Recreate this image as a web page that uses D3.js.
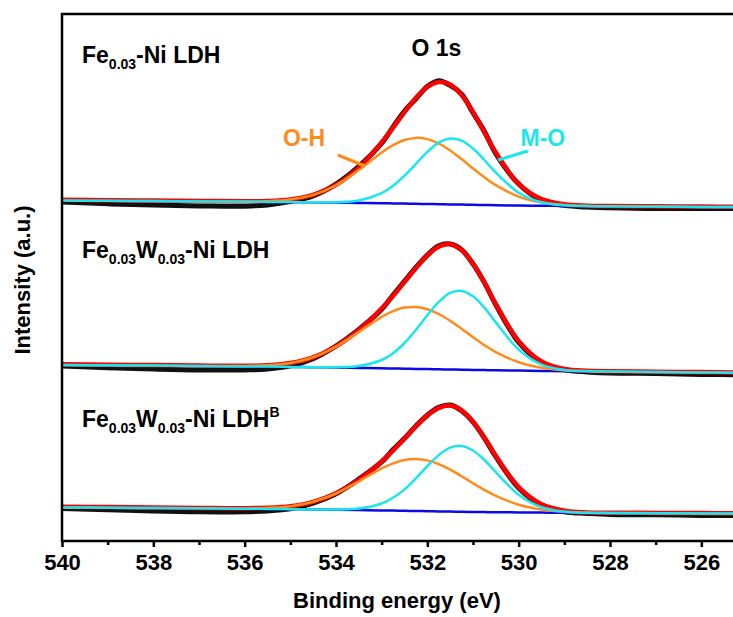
<!DOCTYPE html>
<html>
<head>
<meta charset="utf-8">
<script src="https://cdn.jsdelivr.net/npm/d3@7"></script>
<style>
  body { margin: 0; background: #fff; }
  text { font-family: "Liberation Sans", Arial, sans-serif; font-weight: bold; }
</style>
</head>
<body>
<div id="chart"></div>
<script>
// binding energy grid (eV)
const energy = [540, 539, 538, 537, 536, 535.5, 535, 534.5, 534, 533.5, 533, 532.75, 532.5, 532.25, 532,
  531.75, 531.5, 531.25, 531, 530.75, 530.5, 530, 529.5, 529, 528.5, 528, 527, 526, 525];

// Fe0.03-Ni LDH
const bg1 = [340.5, 340.2, 339.9, 339.6, 339.3, 339.1, 338.9, 338.7, 338.4, 338.1, 337.8, 337.6, 337.4, 337.2, 337.0,
  336.8, 336.6, 336.4, 336.2, 336.0, 335.8, 335.5, 335.3, 335.1, 334.9, 334.7, 334.4, 334.1, 333.8];
const raw1 = [-1.5, -3, -4, -4.5, -4.5, -3, 0.5, 6.5, 18.5, 36.5, 60, 76.5, 92.5, 105, 117.5,
  123.5, 119, 110.5, 92, 73.5, 51.5, 21.5, 5.5, 0.5, -1, -1.5, -2, -1.5, -1.5];
const fit1 = [0.8, 0.6, 0.5, 0.4, 0.5, 0.9, 2.6, 7.4, 17.7, 35.3, 60.8, 75.8, 91.5, 105.9, 117.0,
  122.2, 119.8, 109.5, 92.7, 72.7, 52.6, 21.7, 6.6, 1.6, 0.4, 0.3, 0.3, 0.3, 0.3];
const oh1 = [0, 0, 0, 0, 0.2, 0.7, 2.6, 7.4, 17.3, 32.8, 50.7, 58.2, 63.6, 65.9, 64.9,
  60.7, 53.9, 45.5, 36.4, 27.7, 20.0, 8.9, 3.2, 1.0, 0.2, 0, 0, 0, 0];
const mo1 = [0, 0, 0, 0, 0, 0, 0, 0, 0.4, 2.5, 10.1, 17.6, 27.9, 40.0, 52.1,
  61.5, 65.9, 64.0, 56.3, 45.0, 32.6, 12.8, 3.4, 0.6, 0, 0, 0, 0, 0];

// Fe0.03W0.03-Ni LDH
const bg2 = [176, 175.7, 175.4, 175, 174.6, 174.4, 174.1, 173.8, 173.5, 173.1, 172.7, 172.5, 172.3, 172.1, 171.9,
  171.7, 171.5, 171.3, 171.1, 170.9, 170.7, 170.4, 170.1, 169.8, 169.6, 169.4, 169, 168.6, 168.2];
const raw2 = [-1, -2.5, -3.5, -4, -3.5, -2.5, 1, 8.5, 21.5, 38.5, 59, 73.5, 87.5, 101.5, 114,
  123.5, 125.5, 120, 106, 87.5, 65.5, 28.5, 8.5, 1.5, -0.5, -1.5, -1.5, -2, -2];
const fit2 = [0.8, 0.6, 0.5, 0.4, 0.6, 1.4, 3.9, 9.9, 21.1, 37.8, 59.8, 72.7, 86.8, 100.9, 113.8,
  122.7, 125.3, 119.7, 106.3, 87.4, 66.1, 29.5, 9.5, 2.3, 0.6, 0.3, 0.3, 0.3, 0.3];
const oh2 = [0, 0, 0, 0, 0.4, 1.3, 3.9, 9.9, 20.8, 36.0, 51.5, 57.4, 61.1, 61.9, 59.9,
  55.3, 48.7, 40.9, 32.7, 25.0, 18.2, 8.4, 3.2, 1.0, 0.3, 0, 0, 0, 0];
const mo2 = [0, 0, 0, 0, 0, 0, 0, 0, 0.3, 1.8, 8.3, 15.3, 25.7, 39.0, 53.9,
  67.4, 76.6, 78.8, 73.6, 62.4, 47.9, 21.1, 6.3, 1.3, 0.2, 0, 0, 0, 0];

// Fe0.03W0.03-Ni LDH^B
const bg3 = [33.5, 33.3, 33.0, 32.7, 32.3, 32.1, 31.8, 31.5, 31.2, 30.9, 30.6, 30.4, 30.2, 30.0, 29.8,
  29.6, 29.4, 29.2, 29.0, 28.9, 28.8, 28.6, 28.4, 28.2, 28.1, 28.0, 27.8, 27.6, 27.4];
const raw3 = [-1, -2, -3, -3.5, -3, -2, 0.5, 6.5, 16, 31, 48.5, 61, 72.5, 85, 96,
  104, 106.5, 101, 90, 74, 55.5, 24.5, 7.5, 1, -0.5, -1.5, -1.5, -2, -2];
const fit3 = [0.8, 0.6, 0.5, 0.4, 0.5, 1.1, 3.0, 7.7, 16.6, 30.3, 48.9, 60.1, 72.2, 84.6, 95.8,
  103.6, 106.0, 101.5, 90.3, 74.3, 56.3, 25.3, 8.3, 2.1, 0.5, 0.3, 0.3, 0.3, 0.3];
const oh3 = [0, 0, 0, 0, 0.3, 1.0, 3.0, 7.7, 16.3, 28.8, 42.0, 47.3, 50.8, 52, 50.8,
  47.3, 42.0, 35.6, 28.8, 22.2, 16.3, 7.7, 3.0, 1.0, 0.3, 0.1, 0, 0, 0];
const mo3 = [0, 0, 0, 0, 0, 0, 0, 0, 0.3, 1.5, 6.9, 12.8, 21.4, 32.6, 45.0,
  56.3, 64.0, 65.9, 61.5, 52.1, 40.0, 17.6, 5.3, 1.1, 0.1, 0, 0, 0, 0];

const majorTicks = [540, 538, 536, 534, 532, 530, 528, 526];
const minorTicks = [539, 537, 535, 533, 531, 529, 527, 525];

const panels = [
  { bg: bg1, raw: raw1, fit: fit1, oh: oh1, mo: mo1,
    label: [["Fe", ""], ["0.03", "sub"], ["-Ni LDH", ""]], lx: 82, ly: 63 },
  { bg: bg2, raw: raw2, fit: fit2, oh: oh2, mo: mo2,
    label: [["Fe", ""], ["0.03", "sub"], ["W", ""], ["0.03", "sub"], ["-Ni LDH", ""]], lx: 82, ly: 258 },
  { bg: bg3, raw: raw3, fit: fit3, oh: oh3, mo: mo3,
    label: [["Fe", ""], ["0.03", "sub"], ["W", ""], ["0.03", "sub"], ["-Ni LDH", ""], ["B", "sup"]], lx: 82, ly: 427 }
];

const colors = { raw: "#111111", fit: "#ff0000", bg: "#0a0ae6", oh: "#ff8c1a", mo: "#19e6ee" };

const W = 733, H = 617;
const plot = { left: 62, right: 747, top: 14, bottom: 541 };

const svg = d3.select("#chart").append("svg")
  .attr("width", W)
  .attr("height", H);

const xScale = d3.scaleLinear().domain([540, 525]).range([plot.left, plot.right]);
const yScale = d3.scaleLinear().domain([0, 527]).range([plot.bottom, plot.top]);

svg.append("clipPath").attr("id", "clip")
  .append("rect")
  .attr("x", plot.left).attr("y", plot.top)
  .attr("width", plot.right - plot.left).attr("height", plot.bottom - plot.top);

const line = d3.line()
  .x(d => xScale(d[0]))
  .y(d => yScale(d[1]))
  .curve(d3.curveCatmullRom.alpha(0.5));

const curves = svg.append("g").attr("clip-path", "url(#clip)");

panels.forEach(p => {
  const pts = arr => energy.map((e, i) => [e, p.bg[i] + arr[i]]);
  const layers = [
    { d: pts(p.raw), c: colors.raw, w: 5 },
    { d: pts(p.fit), c: colors.fit, w: 4.5 },
    { d: energy.map((e, i) => [e, p.bg[i]]), c: colors.bg, w: 2.5 },
    { d: pts(p.oh), c: colors.oh, w: 2.5 },
    { d: pts(p.mo), c: colors.mo, w: 2.5 }
  ];
  layers.forEach(l => {
    curves.append("path")
      .datum(l.d)
      .attr("fill", "none")
      .attr("stroke", l.c)
      .attr("stroke-width", l.w)
      .attr("stroke-linejoin", "round")
      .attr("stroke-linecap", "round")
      .attr("d", line);
  });

  // sample label with sub/superscripts
  const t = svg.append("text")
    .attr("x", p.lx).attr("y", p.ly)
    .attr("font-size", 23)
    .attr("fill", "#000");
  let shift = 0;
  p.label.forEach(([s, kind]) => {
    const target = kind === "sub" ? 6 : kind === "sup" ? -10 : 0;
    t.append("tspan")
      .attr("dy", target - shift)
      .attr("font-size", kind ? 14 : 23)
      .text(s);
    shift = target;
  });
});

// annotations O-H / M-O with leader lines (energy, intensity)
const notes = [
  { text: "O-H", color: colors.oh, at: [534.7, 395], lead: [[533.96, 386], [533.37, 375]] },
  { text: "M-O", color: colors.mo, at: [529.47, 395], lead: [[530.45, 381], [529.8, 390]] }
];
notes.forEach(n => {
  svg.append("line")
    .attr("x1", xScale(n.lead[0][0])).attr("y1", yScale(n.lead[0][1]))
    .attr("x2", xScale(n.lead[1][0])).attr("y2", yScale(n.lead[1][1]))
    .attr("stroke", n.color).attr("stroke-width", 3);
  svg.append("text")
    .attr("x", xScale(n.at[0])).attr("y", yScale(n.at[1]))
    .attr("text-anchor", "middle")
    .attr("font-size", 23)
    .attr("fill", n.color)
    .text(n.text);
});

svg.append("text")
  .attr("x", xScale(531.8)).attr("y", 56)
  .attr("text-anchor", "middle")
  .attr("font-size", 23)
  .text("O 1s");

// frame
svg.append("rect")
  .attr("x", plot.left).attr("y", plot.top)
  .attr("width", plot.right - plot.left).attr("height", plot.bottom - plot.top)
  .attr("fill", "none")
  .attr("stroke", "#000")
  .attr("stroke-width", 2.5);

// x axis
const gx = svg.append("g")
  .attr("transform", `translate(0,${plot.bottom})`)
  .call(d3.axisBottom(xScale).tickValues(majorTicks).tickSize(6).tickPadding(7).tickFormat(d3.format("d")));
gx.select(".domain").remove();
gx.selectAll("line").attr("stroke-width", 2.5);
gx.selectAll("text")
  .attr("font-size", 22)
  .attr("font-family", "Liberation Sans, Arial, sans-serif")
  .attr("font-weight", "bold")
  .attr("fill", "#000");

const gm = svg.append("g")
  .attr("transform", `translate(0,${plot.bottom})`)
  .call(d3.axisBottom(xScale).tickValues(minorTicks).tickSize(4).tickFormat(""));
gm.select(".domain").remove();
gm.selectAll("line").attr("stroke-width", 2.5);

// axis titles
svg.append("text")
  .attr("x", 397).attr("y", 608)
  .attr("text-anchor", "middle")
  .attr("font-size", 22)
  .text("Binding energy (eV)");

svg.append("text")
  .attr("transform", "rotate(-90)")
  .attr("x", -280).attr("y", 30)
  .attr("text-anchor", "middle")
  .attr("font-size", 22)
  .text("Intensity (a.u.)");
</script>
</body>
</html>
